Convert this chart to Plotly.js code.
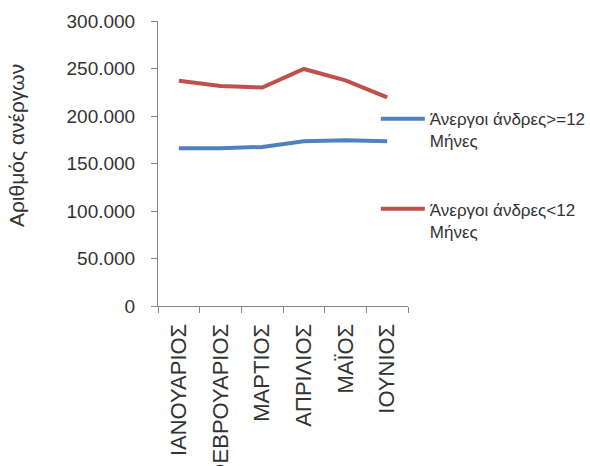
<!DOCTYPE html>
<html>
<head>
<meta charset="utf-8">
<script src="https://cdn.plot.ly/plotly-3.0.1.min.js"></script>
<style>html,body{margin:0;padding:0;background:#fff}#chart{width:590px;height:466px}</style>
</head>
<body>
<div id="chart"></div>
<script>
const months = ["ΙΑΝΟΥΑΡΙΟΣ","ΦΕΒΡΟΥΑΡΙΟΣ","ΜΑΡΤΙΟΣ","ΑΠΡΙΛΙΟΣ","ΜΑΪΟΣ","ΙΟΥΝΙΟΣ"];
const longTerm = [166000, 166000, 167500, 173500, 174500, 173500];
const shortTerm = [237000, 231500, 230000, 249500, 237500, 219500];
const seriesNames = ["Άνεργοι άνδρες>=12<br>Μήνες", "Άνεργοι άνδρες<12<br>Μήνες"];
const yTicks = [0, 50000, 100000, 150000, 200000, 250000, 300000];
const yTickText = ["0", "50.000", "100.000", "150.000", "200.000", "250.000", "300.000"];
const yTitle = "Αριθμός ανέργων";

const font = "Liberation Sans, Arial, sans-serif";
const txt = "#333333";
const data = [
  {x: months, y: longTerm, name: seriesNames[0], type: "scatter", mode: "lines",
   line: {color: "#4F81BD", width: 4}, legendgroup: "a"},
  {x: months, y: shortTerm, name: seriesNames[1], type: "scatter", mode: "lines",
   line: {color: "#C0504D", width: 4}, legendgroup: "b"}
];
const layout = {
  width: 590, height: 466,
  margin: {l: 158, r: 182, t: 21, b: 160, autoexpand: false},
  paper_bgcolor: "#fff", plot_bgcolor: "#fff",
  font: {family: font, color: txt},
  showlegend: true,
  legend: {xref: "container", yref: "container", x: 0.637, y: 0.783, xanchor: "left", yanchor: "top",
    itemwidth: 44, font: {family: font, size: 17, color: txt},
    tracegroupgap: 43, valign: "top", bgcolor: "rgba(0,0,0,0)"},
  xaxis: {type: "category", range: [-0.5, 5.5], tickson: "boundaries", ticks: "outside", ticklen: 6,
    tickcolor: "#868686", showline: true, linecolor: "#868686", linewidth: 1,
    showgrid: false, tickangle: -90, ticklabelstandoff: 8, automargin: false,
    tickfont: {family: font, size: 22, color: txt},
    zeroline: false, fixedrange: true},
  yaxis: {range: [0, 300000], tickvals: yTicks, ticktext: yTickText, ticks: "outside",
    ticklen: 6, tickcolor: "#868686", showline: true, linecolor: "#868686", linewidth: 1,
    showgrid: false, zeroline: false, ticklabelstandoff: 12, automargin: false,
    tickfont: {family: font, size: 19, color: txt}},
  annotations: [{text: yTitle, textangle: -90, xref: "paper", yref: "paper",
    x: -0.568, y: 0.561, xanchor: "center", yanchor: "middle", showarrow: false,
    font: {family: font, size: 21, color: txt}}]
};
Plotly.newPlot("chart", data, layout, {displayModeBar: false, staticPlot: true});
</script>
</body>
</html>
